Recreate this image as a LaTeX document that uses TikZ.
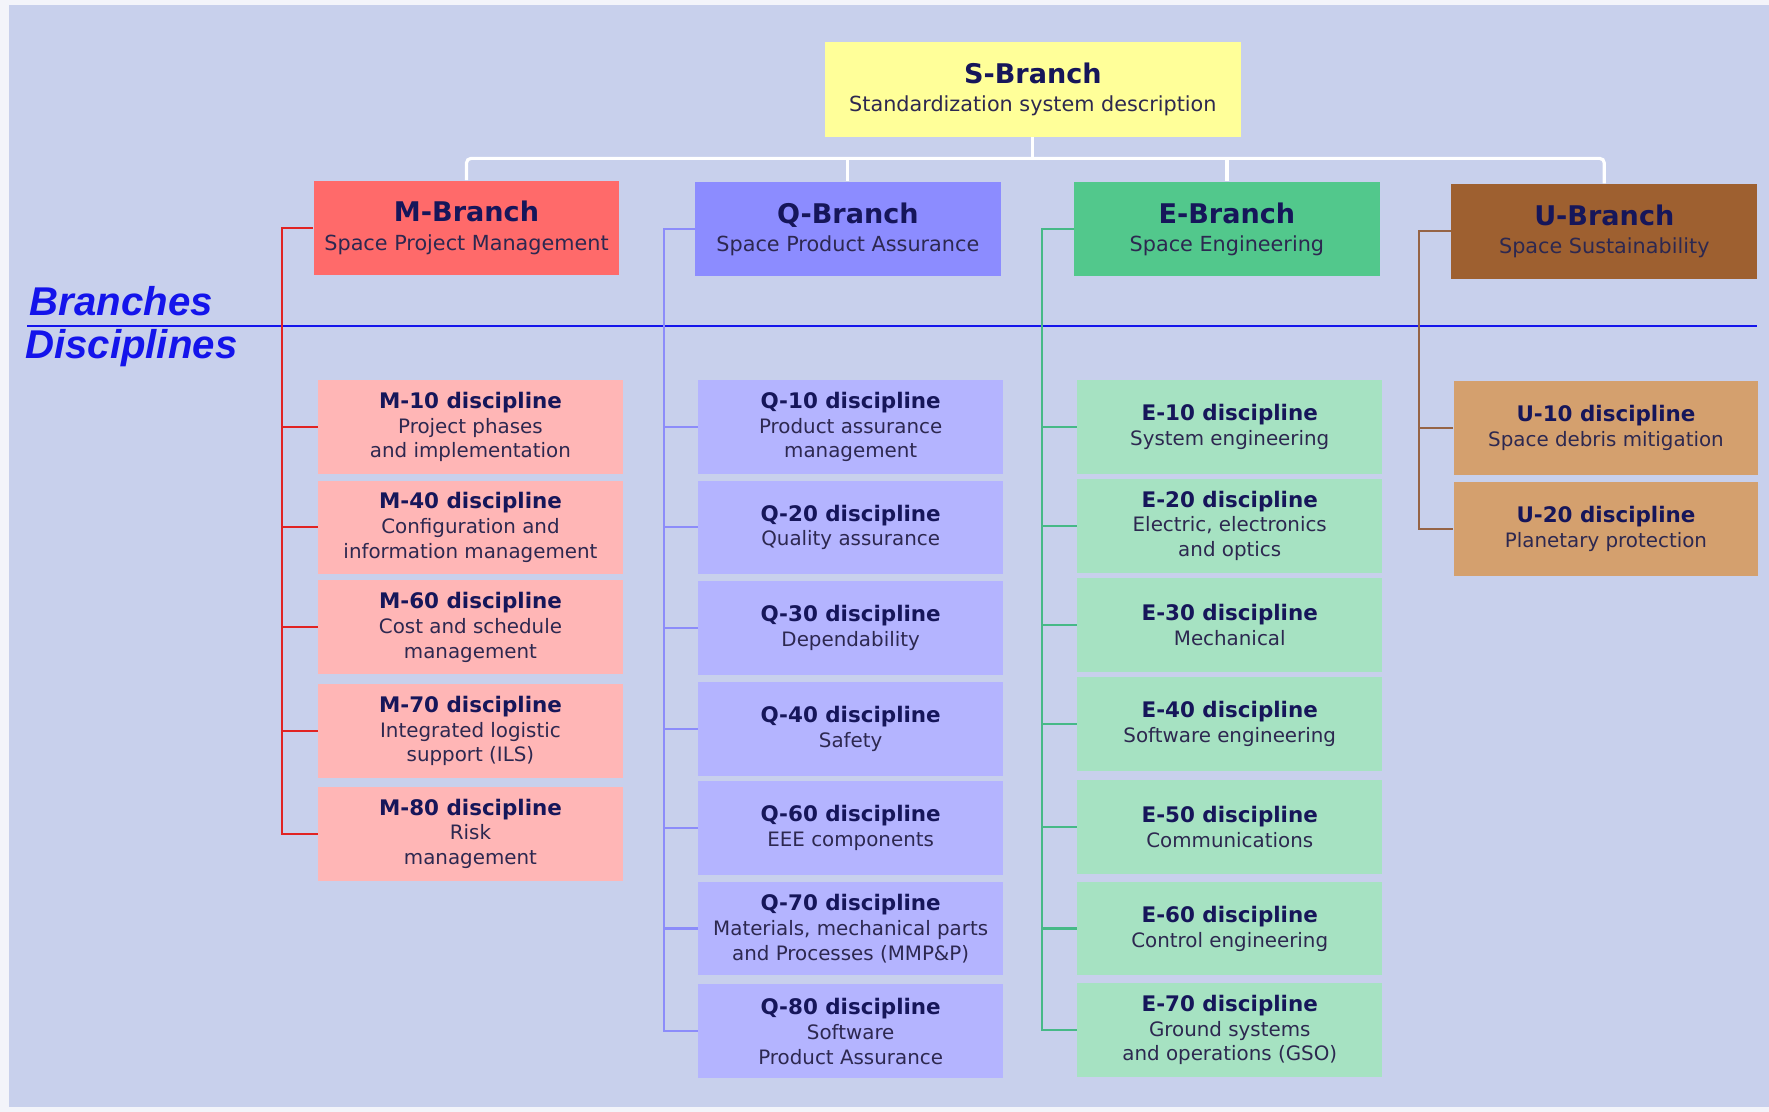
\documentclass[tikz,border=0pt]{standalone}
\usepackage{fontspec}
\setmainfont{DejaVu Sans}
\newfontfamily\sidefont{Liberation Sans}

\definecolor{bgpage}{RGB}{243,244,250}
\definecolor{bglav}{RGB}{200,208,236}
\definecolor{sfill}{RGB}{255,255,153}
\definecolor{mfill}{RGB}{255,106,106}
\definecolor{qfill}{RGB}{140,140,255}
\definecolor{efill}{RGB}{82,200,140}
\definecolor{ufill}{RGB}{158,96,48}
\definecolor{mdisc}{RGB}{255,182,182}
\definecolor{qdisc}{RGB}{180,180,255}
\definecolor{edisc}{RGB}{166,226,194}
\definecolor{udisc}{RGB}{212,160,110}
\definecolor{mspinecol}{RGB}{225,35,35}
\definecolor{qspinecol}{RGB}{140,140,250}
\definecolor{espinecol}{RGB}{70,185,135}
\definecolor{uspinecol}{RGB}{150,100,70}
\definecolor{navytext}{RGB}{22,22,90}
\definecolor{bodytext}{RGB}{45,40,80}
\definecolor{sepblue}{RGB}{20,20,235}

\newcommand{\btitle}[1]{{\fontsize{12}{14}\selectfont\bfseries\color{navytext}#1}}
\newcommand{\dtitle}[1]{{\fontsize{9.5}{11}\selectfont\bfseries\color{navytext}#1 discipline}}

\begin{document}
\begin{tikzpicture}[x=0.5pt, y=-0.5pt,
		branchbox/.style={minimum width=135.5pt, minimum height=42pt, inner sep=0pt, align=center, text=bodytext, font=\fontsize{9.2}{12.5}\selectfont},
		discbox/.style={minimum width=135pt, minimum height=41.5pt, inner sep=0pt, align=center, text=bodytext, font=\fontsize{8.8}{11}\selectfont},
		treeline/.style={draw=white, line width=1.4pt},
		spine/.style={line width=0.9pt},
		sidelabel/.style={anchor=base west, inner sep=0pt, text=sepblue, font=\sidefont\bfseries\itshape\fontsize{17.8}{20}\selectfont}]
		\useasboundingbox (0,0) rectangle (1568,985.6);
		\fill[bgpage] (0,0) rectangle (1568,985.6);
		\fill[bglav] (8,4.5) rectangle (1568,981);
		
		% branches
		\node[branchbox, fill=sfill, minimum width=184.5pt] (sbranch) at (915.5,79) {\btitle{S-Branch}\\Standardization system description};
		\node[branchbox, fill=mfill] (mbranch) at (413.5,202) {\btitle{M-Branch}\\Space Project Management};
		\node[branchbox, fill=qfill] (qbranch) at (751.5,203) {\btitle{Q-Branch}\\Space Product Assurance};
		\node[branchbox, fill=efill] (ebranch) at (1087.5,203) {\btitle{E-Branch}\\Space Engineering};
		\node[branchbox, fill=ufill] (ubranch) at (1422,205) {\btitle{U-Branch}\\Space Sustainability};
		
		\draw[treeline] (sbranch.south) -- ++(0,19) coordinate (sjoin);
		\draw[treeline, rounded corners=2pt] (mbranch.north) |- (sjoin) -| (ubranch.north);
		\foreach \b in {qbranch, ebranch}
		{
			\draw[treeline] (\b.north) -- (\b.north |- sjoin);
		}
		
		% branches / disciplines
		\coordinate (sepleft) at (24,289);
		\coordinate (sepright) at (1557,289);
		\draw[sepblue, line width=1.1pt] (sepleft) -- (sepright);
		\node[sidelabel] (branchlabel) at (26,280) {Branches};
		\node[sidelabel] (disclabel) at (22,318) {Disciplines};
		
		% disciplines
		\foreach \n/\c/\y/\t in {m10/M-10/378.5/{Project phases\\and implementation}, m40/M-40/467.5/{Configuration and\\information management}, m60/M-60/556/{Cost and schedule\\management}, m70/M-70/648/{Integrated logistic\\support (ILS)}, m80/M-80/739/{Risk\\management}}
		{
			\node[discbox, fill=mdisc] (\n) at (417,\y) {\dtitle{\c}\\\t};
		}
		\foreach \n/\c/\y/\t in {q10/Q-10/378.5/{Product assurance\\management}, q20/Q-20/467.5/{Quality assurance}, q30/Q-30/556.5/{Dependability}, q40/Q-40/646/{Safety}, q60/Q-60/734/{EEE components}, q70/Q-70/823/{Materials, mechanical parts\\and Processes (MMP\&P)}, q80/Q-80/914/{Software\\Product Assurance}}
		{
			\node[discbox, fill=qdisc] (\n) at (754,\y) {\dtitle{\c}\\\t};
		}
		\foreach \n/\c/\y/\t in {e10/E-10/378.5/{System engineering}, e20/E-20/466/{Electric, electronics\\and optics}, e30/E-30/554/{Mechanical}, e40/E-40/641.5/{Software engineering}, e50/E-50/733/{Communications}, e60/E-60/823/{Control engineering}, e70/E-70/913/{Ground systems\\and operations (GSO)}}
		{
			\node[discbox, fill=edisc] (\n) at (1090,\y) {\dtitle{\c}\\\t};
		}
		\foreach \n/\c/\y/\t in {u10/U-10/379.5/{Space debris mitigation}, u20/U-20/469/{Planetary protection}}
		{
			\node[discbox, fill=udisc] (\n) at (1423.5,\y) {\dtitle{\c}\\\t};
		}
		
		% spines
		\draw[spine, draw=mspinecol] (mbranch.west) -- ++(-28,0) coordinate (mtop) |- (m80.west);
		\foreach \d in {m10, m40, m60, m70}
		{
			\draw[spine, draw=mspinecol] (\d.west) -- (\d.west -| mtop);
		}
		\draw[spine, draw=qspinecol] (qbranch.west) -- ++(-27,0) coordinate (qtop) |- (q80.west);
		\foreach \d in {q10, q20, q30, q40, q60, q70}
		{
			\draw[spine, draw=qspinecol] (\d.west) -- (\d.west -| qtop);
		}
		\draw[spine, draw=espinecol] (ebranch.west) -- ++(-28,0) coordinate (etop) |- (e70.west);
		\foreach \d in {e10, e20, e30, e40, e50, e60}
		{
			\draw[spine, draw=espinecol] (\d.west) -- (\d.west -| etop);
		}
		\draw[spine, draw=uspinecol] (ubranch.west) -- ++(-28,0) coordinate (utop) |- (u20.west);
		\draw[spine, draw=uspinecol] (u10.west) -- (u10.west -| utop);
	\end{tikzpicture}
\end{document}
